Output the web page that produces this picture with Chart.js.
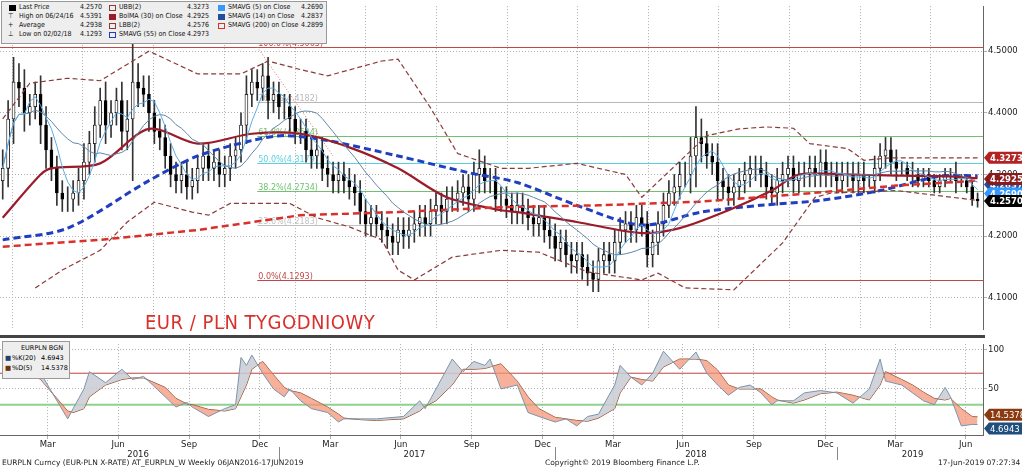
<!DOCTYPE html>
<html>
<head>
<meta charset="utf-8">
<script src="https://cdn.jsdelivr.net/npm/chart.js@4.4.1/dist/chart.umd.min.js"></script>
<style>
body{margin:0;width:1024px;height:470px;background:#fff;position:relative;overflow:hidden;font-family:"DejaVu Sans",sans-serif}
canvas{position:absolute;left:0}
#main{top:0}
#low{top:338px}
.sep{position:absolute;left:0;top:335px;width:985px;height:3px;background:#444}
.lg{position:absolute;left:1px;top:1px;width:324px;height:41px;background:#eee;border:1px solid #999;font-size:7px;color:#111;font-family:"DejaVu Sans Condensed","DejaVu Sans",sans-serif}
.lg span{position:absolute;white-space:nowrap}
.lg span.v{text-align:right;width:40px}
.lg i{position:absolute;width:7px;height:6px;display:block}
.lg2{position:absolute;left:2px;top:341px;width:66px;height:36px;background:#eee;border:1px solid #999;font-size:6.5px}
.lg2 span{position:absolute;white-space:nowrap}
.title{position:absolute;left:145px;top:310px;color:#d9302c;font-size:20px;font-family:"Liberation Sans Narrow","DejaVu Sans Condensed",sans-serif;letter-spacing:0.5px}
.ft{position:absolute;top:458px;font-size:7.5px;color:#222;white-space:nowrap}
</style>
</head>
<body>
<canvas id="main" width="1024" height="336"></canvas>
<canvas id="low" width="1024" height="122"></canvas>
<div class="sep"></div>
<div class="title">EUR / PLN TYGODNIOWY</div>
<div class="lg">
<i style="left:7px;top:3px;background:#000"></i><span style="left:17px;top:1px">Last Price</span><span class="v" style="left:60px;top:1px">4.2570</span>
<span style="left:6px;top:10px">⊤</span><span style="left:17px;top:10px">High on 06/24/16</span><span class="v" style="left:60px;top:10px">4.5391</span>
<span style="left:6px;top:19px">+</span><span style="left:17px;top:19px">Average</span><span class="v" style="left:60px;top:19px">4.2938</span>
<span style="left:6px;top:28px">⊥</span><span style="left:17px;top:28px">Low on 02/02/18</span><span class="v" style="left:60px;top:28px">4.1293</span>
<i style="left:107px;top:3px;border:1px solid #8b3a3a;width:5px;height:4px"></i><span style="left:117px;top:1px">UBB(2)</span><span class="v" style="left:167px;top:1px">4.3273</span>
<i style="left:107px;top:12px;background:#9b1b2a"></i><span style="left:117px;top:10px">BolMA (30) on Close</span><span class="v" style="left:167px;top:10px">4.2925</span>
<i style="left:107px;top:21px;border:1px solid #8b3a3a;width:5px;height:4px"></i><span style="left:117px;top:19px">LBB(2)</span><span class="v" style="left:167px;top:19px">4.2576</span>
<i style="left:107px;top:30px;border:1px solid #1f3fbf;width:5px;height:4px"></i><span style="left:117px;top:28px">SMAVG (55) on Close</span><span class="v" style="left:167px;top:28px">4.2973</span>
<i style="left:216px;top:3px;background:#3399ff"></i><span style="left:226px;top:1px">SMAVG (5) on Close</span><span class="v" style="left:281px;top:1px">4.2690</span>
<i style="left:216px;top:12px;background:#1f4e9c"></i><span style="left:226px;top:10px">SMAVG (14) on Close</span><span class="v" style="left:281px;top:10px">4.2837</span>
<i style="left:216px;top:21px;border:1px solid #d9302c;width:5px;height:4px"></i><span style="left:226px;top:19px">SMAVG (200) on Close</span><span class="v" style="left:281px;top:19px">4.2899</span>
</div>
<div class="lg2">
<span style="left:18px;top:2px">EURPLN BGN</span>
<span style="left:2px;top:12px;color:#1f3f6f">■</span><span style="left:9px;top:12px">%K(20)</span><span style="left:38px;top:12px">4.6943</span>
<span style="left:2px;top:22px;color:#6b3010">■</span><span style="left:9px;top:22px">%D(5)</span><span style="left:38px;top:22px">14.5378</span>
</div>
<div class="ft" style="left:2px">EURPLN Curncy (EUR-PLN X-RATE) AT_EURPLN_W  Weekly 06JAN2016-17JUN2019</div>
<div class="ft" style="left:545px">Copyright© 2019 Bloomberg Finance L.P.</div>
<div class="ft" style="left:938px">17-Jun-2019 07:27:34</div>
<script>
// weekly closes, 06JAN2016 - 17JUN2019 (one row per month)
var closes = [
 4.31,4.39,4.45,4.44, 4.40,4.41,4.43,4.38, 4.34,4.31,4.27,4.26,4.26, 4.27,4.29,4.32,4.35,
 4.38,4.42,4.38,4.40,4.42, 4.37,4.39,4.45,4.44, 4.43,4.40,4.37,4.36, 4.33,4.30,4.29,4.30,4.28,
 4.29,4.31,4.33,4.31, 4.32,4.30,4.31,4.33,4.34, 4.38,4.43,4.45,4.44, 4.46,4.42,4.43,4.41,4.41,
 4.39,4.37,4.37,4.34, 4.33,4.34,4.31,4.30, 4.29,4.30,4.29,4.28,4.27, 4.24,4.22,4.23,4.22,
 4.21,4.20,4.19,4.21,4.20, 4.21,4.22,4.23,4.22, 4.24,4.25,4.24,4.26, 4.26,4.27,4.28,4.26,
 4.30,4.31,4.29,4.29,4.26, 4.26,4.25,4.24,4.25, 4.24,4.23,4.22,4.23, 4.21,4.20,4.18,4.19,4.17,
 4.16,4.17,4.15,4.14, 4.13,4.16,4.17,4.16, 4.19,4.21,4.22,4.21,4.23, 4.22,4.17,4.19,4.22,
 4.25,4.27,4.28,4.30,4.30, 4.33,4.36,4.35,4.33, 4.32,4.29,4.28,4.27, 4.28,4.29,4.30,4.31,4.31,
 4.30,4.28,4.27,4.29, 4.30,4.31,4.29,4.30,4.30, 4.31,4.30,4.32,4.30, 4.30,4.29,4.30,4.30,
 4.29,4.30,4.29,4.29,4.31, 4.33,4.34,4.32,4.31, 4.31,4.30,4.30,4.29, 4.30,4.29,4.28,4.29,
 4.30,4.30,4.29,4.29,4.28, 4.26,4.257
];
// wick length beyond the candle body
var wick = [
 .03,.03,.04,.03, .03,.02,.02,.03, .03,.02,.02,.02,.02, .02,.02,.03,.02,
 .03,.02,.03,.02,.02, .03,.03,.10,.03, .02,.03,.02,.02, .02,.02,.02,.02,.02,
 .02,.02,.02,.02, .02,.02,.02,.02,.02, .02,.03,.02,.02, .02,.03,.02,.02,.02,
 .02,.02,.02,.02, .02,.02,.02,.02, .02,.02,.02,.02,.02, .02,.02,.02,.02,
 .02,.02,.02,.02,.02, .02,.02,.02,.02, .02,.02,.02,.02, .02,.02,.02,.02,
 .02,.03,.02,.02,.02, .02,.02,.02,.02, .02,.02,.02,.02, .02,.02,.02,.02,.02,
 .02,.02,.02,.02, .02,.02,.02,.02, .02,.02,.02,.02,.02, .02,.02,.02,.02,
 .02,.02,.02,.02,.02, .03,.05,.03,.02, .02,.03,.02,.02, .02,.02,.02,.02,.02,
 .02,.02,.02,.02, .02,.02,.02,.02,.02, .02,.02,.02,.02, .02,.02,.02,.02,
 .02,.02,.02,.01,.02, .02,.02,.02,.02, .01,.01,.02,.01, .01,.01,.01,.01,
 .01,.01,.02,.01,.01, .01,.01
];

// overlay studies: [week, value]
var sma200 = [[0,4.183],[18,4.194],[36,4.21],[55,4.234],[73,4.239],[92,4.247],[110,4.25],[129,4.256],[147,4.268],[165,4.282],[180,4.29]];
var sma55 = [[0,4.194],[12,4.213],[27,4.29],[36,4.33],[46,4.355],[52,4.363],[60,4.355],[73,4.33],[86,4.303],[95,4.287],[106,4.25],[118,4.218],[129,4.239],[140,4.25],[151,4.258],[162,4.274],[173,4.297],[180,4.298]];
var bolMA = [[0,4.23],[7,4.30],[9,4.31],[18,4.318],[27,4.374],[36,4.35],[46,4.366],[55,4.366],[64,4.344],[73,4.31],[82,4.263],[92,4.242],[95,4.239],[106,4.223],[118,4.205],[125,4.213],[134,4.242],[142,4.274],[147,4.30],[156,4.30],[166,4.298],[175,4.297],[180,4.294]];
var upperBB = [[0,4.39],[5,4.448],[12,4.456],[18,4.452],[27,4.50],[36,4.463],[44,4.463],[49,4.484],[55,4.47],[60,4.46],[70,4.484],[73,4.487],[79,4.408],[84,4.334],[92,4.31],[97,4.31],[106,4.318],[115,4.30],[118,4.263],[130,4.363],[136,4.374],[141,4.377],[146,4.375],[149,4.35],[156,4.342],[159,4.323],[164,4.327],[180,4.327]];
var lowerBB = [[6,4.116],[11,4.145],[18,4.177],[23,4.223],[28,4.255],[35,4.239],[38,4.234],[42,4.253],[53,4.253],[58,4.23],[64,4.215],[70,4.194],[73,4.145],[76,4.129],[83,4.166],[92,4.177],[99,4.174],[108,4.142],[118,4.129],[121,4.14],[126,4.116],[135,4.113],[144,4.189],[150,4.263],[153,4.27],[165,4.274],[180,4.258]];

// fibonacci retracement levels
var fibLabels = ['100.0%','76.4%','61.8%','50.0%','38.2%','23.6%','0.0%'];
var fibValues = [4.5065,4.4182,4.3624,4.3179,4.2734,4.2183,4.1293];
var fibColors = ['#c04848','#b8b8b8','#70c070','#5bd0e0','#70c070','#c0c0c0','#c04848'];
var fibStartWeek = 47;

// stochastics panel
var stochWeeks = [0,7,12,13,15,16,19,22,24,26,30,32,34,35,38,41,43,44,45,46,48,50,52,53,55,57,60,62,63,66,69,74,77,78,80,83,85,87,89,90,92,95,97,99,102,104,106,108,110,113,114,116,118,120,122,125,128,130,132,134,136,138,140,142,143,146,148,151,154,157,160,162,163,166,168,170,172,174,175,177,179,180];
var stochK = [95,70,12,25,50,72,58,75,62,66,40,27,33,27,15,25,30,90,80,93,70,50,40,50,35,25,20,8,12,12,12,15,35,25,50,88,72,85,80,88,50,55,20,15,8,12,3,15,18,55,80,65,55,70,98,75,97,70,55,42,52,55,45,30,35,35,45,48,45,32,50,88,60,55,45,35,30,52,40,3,5,4.7];
var stochD = [92,62,22,20,25,40,55,62,64,64,52,38,31,30,24,22,25,40,55,75,85,68,52,48,45,38,27,18,13,11,10,12,22,28,35,55,75,75,76,78,82,60,40,25,14,12,10,9,13,25,45,65,62,60,78,88,88,86,74,55,50,50,50,40,36,32,36,44,46,42,36,55,72,62,55,46,38,36,38,25,15,14.5];

// x axis
var monthWeeks = [8.3,21.3,34.4,47.5,60.5,73.5,86.6,99.7,112.7,125.6,138.7,151.9,164.8,177.8];
var monthLabels = ['Mar','Jun','Sep','Dec','Mar','Jun','Sep','Dec','Mar','Jun','Sep','Dec','Mar','Jun'];
var yearLabels = ['2016','2017','2018','2019'];
var yearCenters = [25,76,128,168];
var yearDividers = [51,102,154];
var priceTicks = [4.1,4.2,4.3,4.4,4.5];

var lastLabels = [
 {v:4.3273, bg:'#b22222'},
 {v:4.2837, bg:'#1f4e9c'},
 {v:4.2690, bg:'#3399ff'},
 {v:4.2925, bg:'#8b1a1a'},
 {v:4.2570, bg:'#000000'}
];

var opens = closes.map(function(c,i){ return i ? closes[i-1] : c - 0.02; });
var bodies = closes.map(function(c,i){ return {x:i, y:[opens[i], c]}; });
var wicks = closes.map(function(c,i){
	return {x:i, y:[Math.min(opens[i],c)-wick[i], Math.max(opens[i],c)+wick[i]]};
});
function sma(n){
	return closes.map(function(c,i){
		var s = 0, k = 0;
		for (var j = Math.max(0,i-n+1); j <= i; j++){ s += closes[j]; k++; }
		return {x:i, y:s/k};
	});
}
function pts(a){ return a.map(function(p){ return {x:p[0], y:p[1]}; }); }

var gridDots = {color:'#b0b0b0', lineWidth:1};
var XMIN = -0.5, XMAX = 181;

var fibPlugin = {
	id:'fib',
	beforeDatasetsDraw:function(chart){
		var c = chart.ctx, x = chart.scales.x, y = chart.scales.y;
		var x0 = x.getPixelForValue(fibStartWeek), x1 = chart.chartArea.right;
		c.save();
		c.font = '8px "DejaVu Sans"';
		fibValues.forEach(function(v,i){
			var py = Math.round(y.getPixelForValue(v)) + 0.5;
			c.strokeStyle = fibColors[i]; c.lineWidth = 1;
			c.beginPath(); c.moveTo(i==0 ? 0 : x0, py); c.lineTo(x1, py); c.stroke();
			c.fillStyle = fibColors[i];
			c.fillText(fibLabels[i] + '(' + v.toFixed(4) + ')', x0 + 1, py - 2);
		});
		// trend line from the high
		c.setLineDash([1,2]); c.strokeStyle = '#d07070';
		c.beginPath();
		c.moveTo(x0, y.getPixelForValue(fibValues[0]));
		c.lineTo(x.getPixelForValue(61), y.getPixelForValue(4.33));
		c.stroke();
		c.restore();
	},
	afterDraw:function(chart){
		var c = chart.ctx, y = chart.scales.y;
		c.save();
		c.font = 'bold 8.5px "DejaVu Sans"';
		lastLabels.forEach(function(l){
			var py = y.getPixelForValue(l.v);
			c.fillStyle = l.bg;
			c.beginPath();
			c.moveTo(984, py); c.lineTo(989, py-6); c.lineTo(1022, py-6); c.lineTo(1022, py+6); c.lineTo(989, py+6);
			c.closePath(); c.fill();
			c.fillStyle = '#fff';
			c.fillText(l.v.toFixed(4), 990, py + 3);
		});
		c.restore();
	}
};

new Chart(document.getElementById('main'), {
	type:'bar',
	data:{
		datasets:[
			{type:'line', data:sma(5), borderColor:'#5aaee8', borderWidth:1, pointRadius:0, order:0},
			{type:'line', data:sma(14), borderColor:'#5f87a8', borderWidth:1, pointRadius:0, order:0},
			{type:'line', data:pts(upperBB), borderColor:'#8b3a3a', borderWidth:1.2, borderDash:[5,3], pointRadius:0, order:0},
			{type:'line', data:pts(lowerBB), borderColor:'#8b3a3a', borderWidth:1.2, borderDash:[5,3], pointRadius:0, order:0},
			{type:'line', data:pts(sma200), borderColor:'#d9302c', borderWidth:2.5, borderDash:[7,4], pointRadius:0, order:0},
			{type:'line', data:pts(bolMA), borderColor:'#9b1b2a', borderWidth:2.2, pointRadius:0, tension:0.3, order:0},
			{type:'line', data:pts(sma55), borderColor:'#1f3fbf', borderWidth:3, borderDash:[7,4], pointRadius:0, tension:0.3, order:0},
			{data:bodies, barThickness:3, grouped:false, order:1,
				backgroundColor:closes.map(function(c,i){ return c >= opens[i] ? '#fff' : '#000'; }),
				borderColor:'#000', borderWidth:0.8, borderSkipped:false},
			{data:wicks, barThickness:1, grouped:false, order:2, backgroundColor:'#333'}
		]
	},
	options:{
		animation:false, responsive:false,
		layout:{padding:{top:5, bottom:6, left:0, right:0}},
		plugins:{legend:{display:false}, tooltip:{enabled:false}},
		scales:{
			x:{type:'linear', min:XMIN, max:XMAX, offset:false,
				afterBuildTicks:function(s){ s.ticks = monthWeeks.map(function(v){ return {value:v}; }); },
				ticks:{display:false}, grid:Object.assign({drawTicks:false}, gridDots),
				border:{display:false, dash:[1,2]}},
			y:{position:'right', min:4.048, max:4.573,
				afterBuildTicks:function(s){ s.ticks = priceTicks.map(function(v){ return {value:v}; }); },
				afterFit:function(s){ s.width = 41; },
				ticks:{font:{size:8.5, family:'DejaVu Sans'}, color:'#222', padding:1,
					callback:function(v){ return v.toFixed(4); }},
				grid:Object.assign({tickLength:4}, gridDots),
				border:{color:'#666', dash:[1,2]}}
		}
	},
	plugins:[fibPlugin]
});

var lowPlugin = {
	id:'low',
	beforeDatasetsDraw:function(chart){
		var c = chart.ctx, y = chart.scales.y, a = chart.chartArea;
		c.save();
		[[70,'#c04040',1],[30,'#8fd08f',2]].forEach(function(h){
			var py = y.getPixelForValue(h[0]);
			c.strokeStyle = h[1]; c.lineWidth = h[2];
			c.beginPath(); c.moveTo(a.left, py); c.lineTo(a.right, py); c.stroke();
		});
		c.restore();
	},
	afterDraw:function(chart){
		var c = chart.ctx, x = chart.scales.x, y = chart.scales.y, a = chart.chartArea;
		c.save();
		c.strokeStyle = '#888'; c.lineWidth = 1;
		yearDividers.forEach(function(w){
			var px = Math.round(x.getPixelForValue(w)) + 0.5;
			c.beginPath(); c.moveTo(px, a.bottom + 12); c.lineTo(px, a.bottom + 25); c.stroke();
		});
		c.fillStyle = '#222'; c.font = '8.5px "DejaVu Sans"'; c.textAlign = 'center';
		yearLabels.forEach(function(t,i){ c.fillText(t, x.getPixelForValue(yearCenters[i]), a.bottom + 22); });
		c.textAlign = 'left'; c.font = '8.5px "DejaVu Sans"';
		[[14.5378,'#8b3a10'],[4.6943,'#1f4e7c']].forEach(function(l, i){
			var py = y.getPixelForValue(l[0]) + (i ? 4 : -2);
			c.fillStyle = l[1];
			c.beginPath();
			c.moveTo(984, py); c.lineTo(989, py-6); c.lineTo(1022, py-6); c.lineTo(1022, py+6); c.lineTo(989, py+6);
			c.closePath(); c.fill();
			c.fillStyle = '#fff';
			c.fillText(l[0].toFixed(4), 990, py + 3);
		});
		c.restore();
	}
};

new Chart(document.getElementById('low'), {
	type:'line',
	data:{
		datasets:[
			{data:stochWeeks.map(function(w,i){ return {x:w, y:stochK[i]}; }),
				borderColor:'#7d93aa', borderWidth:1, pointRadius:0,
				fill:{target:'+1', above:'rgba(200,205,212,0.85)', below:'rgba(244,150,120,0.75)'}},
			{data:stochWeeks.map(function(w,i){ return {x:w, y:stochD[i]}; }),
				borderColor:'#8b4a2a', borderWidth:1, pointRadius:0}
		]
	},
	options:{
		animation:false, responsive:false,
		layout:{padding:{top:2, left:0, right:0, bottom:0}},
		plugins:{legend:{display:false}, tooltip:{enabled:false}},
		scales:{
			x:{type:'linear', min:XMIN, max:XMAX, offset:false,
				afterBuildTicks:function(s){ s.ticks = monthWeeks.map(function(v){ return {value:v}; }); },
				afterFit:function(s){ s.height = 25; },
				ticks:{autoSkip:false, maxRotation:0, padding:1, font:{size:8.5, family:'DejaVu Sans'}, color:'#222',
					callback:function(v){ var i = monthWeeks.indexOf(v); return i < 0 ? '' : monthLabels[i]; }},
				grid:Object.assign({tickLength:4}, gridDots),
				border:{color:'#666', dash:[1,2]}},
			y:{position:'right', min:-8.5, max:107,
				afterBuildTicks:function(s){ s.ticks = [{value:50},{value:100}]; },
				afterFit:function(s){ s.width = 41; },
				ticks:{font:{size:8.5, family:'DejaVu Sans'}, color:'#222', padding:1},
				grid:Object.assign({tickLength:4}, gridDots),
				border:{color:'#666', dash:[1,2]}}
		}
	},
	plugins:[lowPlugin]
});
</script>
</body>
</html>
